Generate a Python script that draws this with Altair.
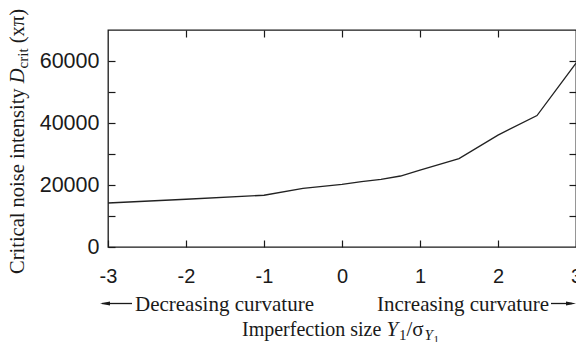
import altair as alt
import pandas as pd

# ---- data ----
x_vals = [-3, -2, -1, -0.5, 0, 0.25, 0.5, 0.75, 1, 1.5, 2, 2.5, 3]
d_crit = [14200, 15400, 16700, 18900, 20200, 21100, 21800, 22900, 24800, 28500, 36100, 42400, 59300]
x_ticks = [-3, -2, -1, 0, 1, 2, 3]
x_inner_ticks = [-2, -1, 0, 1, 2]
y_ticks = [0, 10000, 20000, 30000, 40000, 50000, 60000]
y_inner_ticks = [10000, 20000, 30000, 40000, 50000, 60000]

df = pd.DataFrame({"x": x_vals, "y": d_crit})
one = pd.DataFrame({"a": [0]})

SANS = "Liberation Sans"
SERIF = "Liberation Serif"
INK = "#1a1a1a"
TICK = 7
W = 468

xs = alt.Scale(domain=[-3, 3], nice=False, zero=False)
ys = alt.Scale(domain=[0, 70000], nice=False)

line = alt.Chart(df).mark_line(color="#222222", strokeWidth=1.3).encode(
    x=alt.X("x:Q", scale=xs, axis=alt.Axis(
        orient="bottom", values=x_ticks, title=None, domain=False, grid=False,
        offset=-TICK, tickSize=TICK, tickColor=INK, tickWidth=1.2,
        labelFont=SANS, labelFontSize=20, labelColor=INK, labelPadding=19,
        labelFlush=False, labelOverlap=False,
        labelExpr="datum.value < 0 ? '-' + abs(datum.value) : '' + datum.value")),
    y=alt.Y("y:Q", scale=ys, axis=alt.Axis(
        orient="left", values=y_ticks, title=None, domain=False, grid=False,
        offset=-TICK, tickSize=TICK, tickColor=INK, tickWidth=1.2,
        labelFont=SANS, labelFontSize=21.5, labelColor=INK, labelPadding=9,
        labelOverlap=False,
        labelExpr="datum.value % 20000 == 0 ? '' + datum.value : ''")),
)

ghost = alt.Chart(df).mark_line(opacity=0).encode(
    x=alt.X("x:Q", scale=xs, axis=alt.Axis(
        orient="top", values=x_inner_ticks, title=None, domain=False, grid=False,
        labels=False, offset=-TICK, tickSize=TICK, tickColor=INK, tickWidth=1.2)),
    y=alt.Y("y:Q", scale=ys, axis=alt.Axis(
        orient="right", values=y_inner_ticks, title=None, domain=False, grid=False,
        labels=False, offset=-TICK, tickSize=TICK, tickColor=INK, tickWidth=1.2)),
)


def txt(s, x, y, size, style="normal", angle=0, align="left", baseline="alphabetic", font=SERIF):
    return alt.Chart(one).mark_text(
        text=s, font=font, fontSize=size, fontStyle=style, angle=angle,
        align=align, baseline=baseline, color=INK,
    ).encode(x=alt.value(x), y=alt.value(y))


# y-axis title (rotated, built from pieces)
YT_X = -84
ytitle = [
    txt("Critical noise intensity", YT_X, 244, 20.5, angle=270),
    txt("D", YT_X, 53.2, 20.5, style="italic", angle=270),
    txt("crit", YT_X + 4, 38.4, 15, angle=270),
    txt("(x\u03c0)", YT_X, 13.3, 20.5, angle=270),
]

# x-axis title pieces
XT_Y = 306
S = 134
xtitle = [
    txt("Imperfection size", S, XT_Y, 20),
    txt("Y", S + 144.4, XT_Y, 21, style="italic"),
    txt("1", S + 157, XT_Y + 4, 15),
    txt("/\u03c3", S + 164.5, XT_Y, 21),
    txt("Y", S + 182.5, XT_Y + 4, 15, style="italic"),
    txt("1", S + 191.5, XT_Y + 7, 11),
]

# curvature annotations
CV_Y = 280.5
notes = [
    txt("Decreasing curvature", 27, CV_Y, 21),
    txt("Increasing curvature", 441, CV_Y, 21, align="right"),
]

AR_Y = 273.5
arrows = [
    alt.Chart(one).mark_rule(color=INK, strokeWidth=1.3).encode(
        x=alt.value(-6), x2=alt.value(24), y=alt.value(AR_Y)),
    alt.Chart(one).mark_point(shape="M -1 0 L 1 -0.4 L 1 0.4 Z", filled=True, size=100,
                              color=INK, opacity=1).encode(
        x=alt.value(-3), y=alt.value(AR_Y)),
    alt.Chart(one).mark_rule(color=INK, strokeWidth=1.3).encode(
        x=alt.value(443), x2=alt.value(464), y=alt.value(AR_Y)),
    alt.Chart(one).mark_point(shape="M 1 0 L -1 -0.4 L -1 0.4 Z", filled=True, size=100,
                              color=INK, opacity=1).encode(
        x=alt.value(463), y=alt.value(AR_Y)),
]

chart = alt.layer(line, ghost, *ytitle, *xtitle, *notes, *arrows).resolve_axis(
    x="independent", y="independent"
).properties(
    width=W, height=217,
    padding={"left": 100, "top": 22, "right": 0, "bottom": 95},
    autosize=alt.AutoSizeParams(type="none"),
    background="white",
).configure_view(stroke=INK, strokeWidth=1.3)

chart.save("out.html", embed_options={"renderer": "svg", "actions": False})
